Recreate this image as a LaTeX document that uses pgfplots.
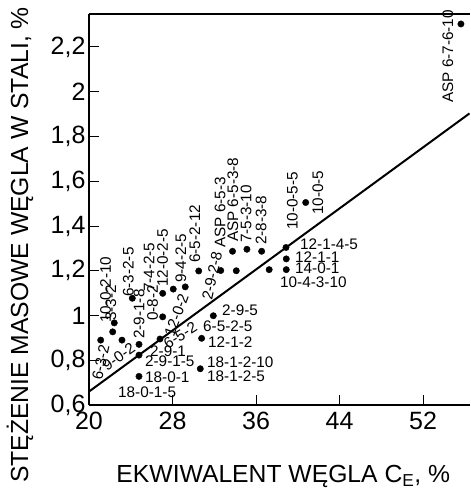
\documentclass[border=0pt]{standalone}
\usepackage{fontspec}
\setmainfont{Liberation Sans}
\usepackage{pgfplots}
\pgfplotsset{compat=1.18}
\usetikzlibrary{calc}
\begin{document}
\begin{tikzpicture}[
  lab/.style={font=\fontsize{15.3bp}{17bp}\selectfont, inner sep=0pt},
  vl/.style={lab, rotate=90, anchor=west},
  hl/.style={lab, anchor=west}]
\begin{axis}[
  scale only axis, width=381bp, height=391bp,
  xmin=20, xmax=56.5, ymin=0.6, ymax=2.3475,
  axis x line*=bottom, axis y line*=left,
  axis line style={line width=1.1bp},
  tick align=inside, major tick length=10bp,
  tick style={line width=1bp, black},
  xtick={20,28,36,44,52},
  ytick={0.6,0.8,1,1.2,1.4,1.6,1.8,2,2.2},
  /pgf/number format/assume math mode=true,
  /pgf/number format/use comma,
  ticklabel style={font=\fontsize{25bp}{28bp}\selectfont},
  xticklabel style={yshift=-4bp},
  xlabel={EKWIWALENT WĘGLA C\textsubscript{E}, \%},
  ylabel={STĘŻENIE MASOWE WĘGLA W STALI, \%},
  label style={font=\fontsize{24.7bp}{28bp}\selectfont},
  xlabel style={at={(axis description cs:0.51,-0.1985)}, anchor=base},
  ylabel style={at={(axis description cs:-0.1601,0.409)}, anchor=base},
  clip=false,
]
\coordinate (bl) at (rel axis cs:0,0);
\coordinate (tr) at (rel axis cs:1,1);
\draw[line width=1.1bp] (rel axis cs:0,1) -- (rel axis cs:1,1);

\addplot[black, line width=2bp] coordinates {(20,0.660) (56.45,1.903)};

\addplot[only marks, mark=*, mark size=3.2bp, black] coordinates {
(21.12,0.890) (22.42,0.967) (22.27,0.927) (23.16,0.890) (24.15,1.077)
(24.79,0.871) (24.79,0.823) (26.80,0.895) (27.06,1.099) (27.06,0.994)
(28.07,1.118) (29.22,1.128) (30.51,1.199) (24.79,0.728) (32.62,1.201)
(34.11,1.200) (33.75,1.287) (35.13,1.296) (36.54,1.287) (37.26,1.205)
(38.87,1.304) (38.90,1.253) (38.90,1.205) (31.91,0.999) (30.79,0.898)
(30.66,0.762) (40.76,1.505) (55.63,2.303)};

\node[lab,rotate=78,anchor=west] at (axis cs:20.77,0.712) {6-3-2};
\node[vl] at (axis cs:21.60,0.966) {10-0-2-10};
\node[vl] at (axis cs:22.10,0.975) {3-3-2};
\node[vl] at (axis cs:23.78,1.083) {6-3-2-5};
\node[vl] at (axis cs:24.79,0.895) {2-9-1-8};
\node[vl] at (axis cs:25.75,1.105) {7-4-2-5};
\node[vl] at (axis cs:26.10,0.975) {0-8-2};
\node[vl] at (axis cs:27.04,1.127) {12-0-2-5};
\node[lab,rotate=70,anchor=west] at (axis cs:27.66,0.908) {12-0-2};
\node[vl] at (axis cs:28.81,1.145) {9-4-2-5};
\node[vl] at (axis cs:30.15,1.235) {6-5-2-12};
\node[lab,rotate=78,anchor=west] at (axis cs:31.30,1.069) {2-9-2-8};
\node[vl] at (axis cs:32.55,1.302) {ASP 6-5-3};
\node[vl] at (axis cs:33.79,1.328) {ASP 6-5-3-8};
\node[vl] at (axis cs:35.04,1.324) {7-5-3-10};
\node[vl] at (axis cs:36.48,1.315) {2-8-3-8};
\node[vl] at (axis cs:39.49,1.382) {10-0-5-5};
\node[vl] at (axis cs:41.93,1.449) {10-0-5};
\node[vl] at (axis cs:54.39,1.950) {ASP 6-7-6-10};
\node[hl] at (axis cs:25.84,0.841) {2-9-1};
\node[hl] at (axis cs:25.36,0.794) {2-9-1-5};
\node[hl] at (axis cs:25.36,0.725) {18-0-1};
\node[hl] at (axis cs:22.78,0.658) {18-0-1-5};
\node[hl] at (axis cs:32.74,1.025) {2-9-5};
\node[hl] at (axis cs:30.92,0.953) {6-5-2-5};
\node[hl] at (axis cs:31.40,0.882) {12-1-2};
\node[hl] at (axis cs:31.30,0.790) {18-1-2-10};
\node[hl] at (axis cs:31.30,0.730) {18-1-2-5};
\node[hl] at (axis cs:40.21,1.320) {12-1-4-5};
\node[hl] at (axis cs:39.73,1.261) {12-1-1};
\node[hl] at (axis cs:39.73,1.212) {14-0-1};
\node[hl] at (axis cs:38.30,1.150) {10-4-3-10};
\node[lab,rotate=35,anchor=west] at (axis cs:21.44,0.770) {9-0-2};
\node[lab,rotate=32,anchor=west] at (axis cs:27.28,0.868) {6-5-2};
\end{axis}
\pgfresetboundingbox
\path[use as bounding box] ($(bl)+(-89bp,-84bp)$) rectangle ($(tr)+(1bp,14bp)$);
\end{tikzpicture}
\end{document}
